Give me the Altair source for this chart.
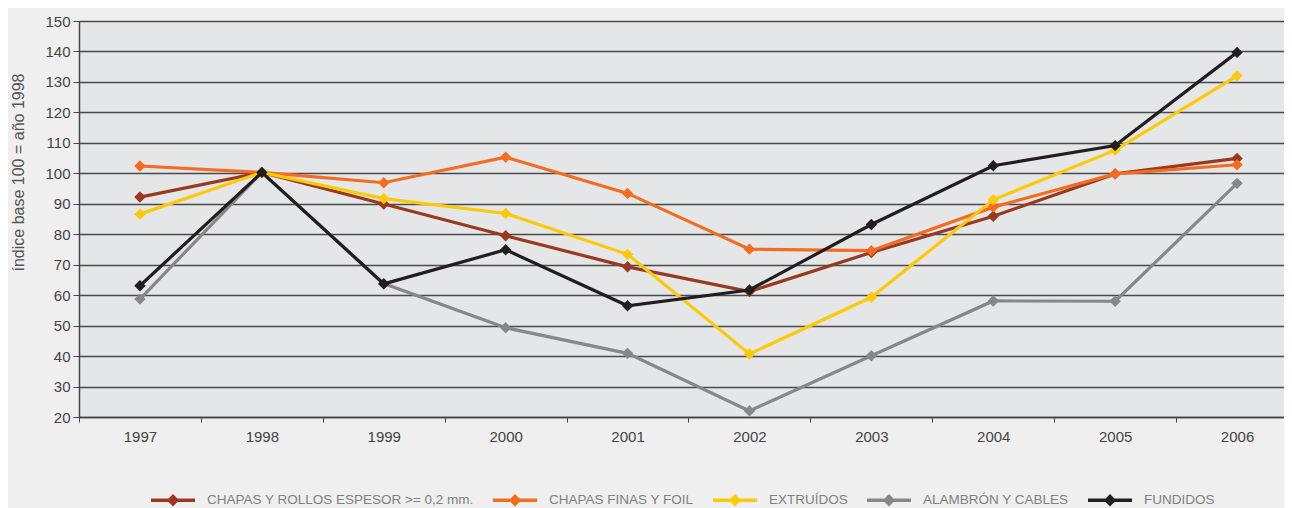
import altair as alt
import pandas as pd

years = [1997, 1998, 1999, 2000, 2001, 2002, 2003, 2004, 2005, 2006]
series_names = [
    "CHAPAS Y ROLLOS ESPESOR >= 0,2 mm.",
    "CHAPAS FINAS Y FOIL",
    "EXTRUÍDOS",
    "ALAMBRÓN Y CABLES",
    "FUNDIDOS",
]
chapas_rollos = [92.2, 100.3, 89.9, 79.5, 69.3, 61.2, 74.0, 85.9, 99.8, 104.9]
chapas_finas = [102.4, 100.3, 96.9, 105.3, 93.4, 75.1, 74.6, 88.9, 99.8, 102.8]
extruidos = [86.6, 100.3, 91.7, 86.8, 73.4, 40.7, 59.3, 91.3, 107.6, 132.0]
alambron = [58.7, 100.3, 63.8, 49.3, 40.9, 22.0, 40.1, 58.1, 58.0, 96.7]
fundidos = [63.1, 100.3, 63.7, 74.9, 56.5, 61.7, 83.2, 102.5, 109.1, 139.7]
colors = ["#993a20", "#f36c21", "#fdc90a", "#878787", "#221e1f"]
y_ticks = list(range(20, 151, 10))

values = [chapas_rollos, chapas_finas, extruidos, alambron, fundidos]
rows = []
for name, vals in zip(series_names, values):
    for yr, v in zip(years, vals):
        rows.append({"year": yr, "serie": name, "valor": v})
df = pd.DataFrame(rows)

W = 1205
H = 396
step = 121.9
x_end = 1996.5 + W / step

xenc = alt.X(
    "year:Q",
    scale=alt.Scale(domain=[1996.5, x_end], nice=False, zero=False),
    axis=alt.Axis(
        values=[y - 0.5 for y in years],
        labelExpr="format(datum.value + 0.5, 'd')",
        labelOffset=step / 2,
        labelFlush=False,
        labelBound=False,
        labelOverlap=False,
        grid=False,
        title=None,
        tickSize=5,
        tickColor="#444",
        domainColor="#444",
        domainWidth=1.5,
        labelPadding=7,
        labelFontSize=15,
        labelColor="#444",
        labelFont="Liberation Sans",
    ),
)
yenc = alt.Y(
    "valor:Q",
    scale=alt.Scale(domain=[20, 150], nice=False, zero=False),
    axis=alt.Axis(
        values=y_ticks,
        title="índice base 100 = año 1998",
        titleX=-61,
        titleY=151,
        titleAngle=-90,
        titleAlign="center",
        titleBaseline="middle",
        titleFontSize=16,
        titleFontWeight="normal",
        titleColor="#555",
        titleFont="Liberation Sans",
        labelFontSize=15,
        labelColor="#444",
        labelFont="Liberation Sans",
        labelPadding=3,
        tickSize=6,
        tickColor="#444",
        domainColor="#444",
        domainWidth=1.5,
        grid=True,
        gridColor="#4a4a4a",
        gridWidth=1.3,
    ),
)

sym = "M-1,-0.075L1,-0.075L1,0.075L-1,0.075Z M0,-0.28L0.28,0L0,0.28L-0.28,0Z"
cscale = alt.Scale(domain=series_names, range=colors)
legend = alt.Legend(
    title=None,
    orient="none",
    direction="horizontal",
    columns=5,
    legendX=72,
    legendY=457,
    padding=0,
    symbolType=sym,
    symbolSize=1936,
    symbolStrokeWidth=0,
    symbolOpacity=1,
    labelFontSize=13.5,
    labelColor="#808080",
    labelFont="Liberation Sans",
    labelOffset=12,
    columnPadding=19,
    labelLimit=400,
)

layers = []
draw_order = [3, 0, 1, 2, 4]
for i in draw_order:
    name = series_names[i]
    base = alt.Chart(df).transform_filter(alt.datum.serie == name)
    line = base.mark_line(strokeWidth=3.2, color=colors[i]).encode(x=xenc, y=yenc)
    pts = base.mark_point(shape="diamond", filled=True, size=130, opacity=1).encode(
        x=xenc, y=yenc,
        fill=alt.Fill("serie:N", scale=cscale, legend=legend),
    )
    layers += [line, pts]

chart = alt.layer(*layers).properties(
    width=W,
    height=H,
    autosize=alt.AutoSizeParams(type="none"),
    padding={"left": 71, "top": 13, "right": 0, "bottom": 92},
    background="#efeff0",
).configure_view(fill="#e5e6e8", stroke=None)

chart.save("out.html", embed_options={"renderer": "svg", "actions": False})
